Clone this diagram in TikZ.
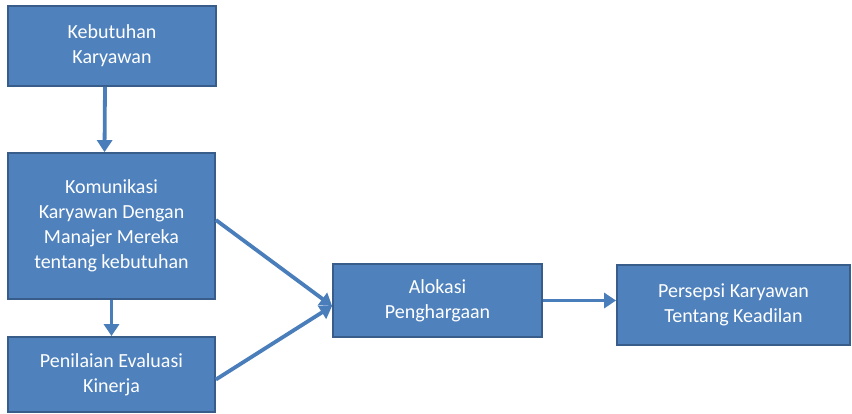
\documentclass[tikz,border=0pt]{standalone}
\usepackage{fontspec}
\setmainfont{Carlito}
\usetikzlibrary{arrows.meta}
\definecolor{boxfill}{HTML}{4F81BD}
\definecolor{boxline}{HTML}{385D8A}
\definecolor{arrowblue}{HTML}{4A7EBB}
\begin{document}
\begin{tikzpicture}[x=1pt,y=-1pt,
  box/.style={draw=boxline,line width=1.8pt,fill=boxfill,text=white,
    align=center,inner sep=0pt,
    font=\fontsize{20}{25}\selectfont},
  flow/.style={draw=arrowblue,line width=3.8pt,
    -{Triangle[width=15pt,length=12pt]}}]
\useasboundingbox (0,0) rectangle (852,413);
% process boxes
\node[box,minimum width=208pt,minimum height=80pt] (need) at (112,46)
  {Kebutuhan\\Karyawan};
\node[box,minimum width=207pt,minimum height=146pt] (comm) at (111.5,226)
  {Komunikasi\\Karyawan Dengan\\Manajer Mereka\\tentang kebutuhan};
\node[box,minimum width=207pt,minimum height=75pt] (eval) at (111.5,374.5)
  {Penilaian Evaluasi\\Kinerja};
\node[box,minimum width=209pt,minimum height=73pt] (alloc) at (437.5,300.5)
  {Alokasi\\Penghargaan};
\node[box,minimum width=233pt,minimum height=80pt] (fair) at (733.5,305)
  {Persepsi Karyawan\\Tentang Keadilan};
% connectors
\coordinate (join) at ([yshift=-5.5pt]alloc.west);
\draw[flow] ([xshift=-7pt]need.south) -- ([xshift=-7pt]comm.north);
\draw[flow] (comm.south) -- (eval.north);
\draw[flow] ([yshift=6pt]comm.east) -- (join);
\draw[flow] ([yshift=-5pt]eval.east) -- (join);
\draw[flow] (alloc.east) -- (alloc.east -| fair.west);
\end{tikzpicture}
\end{document}
